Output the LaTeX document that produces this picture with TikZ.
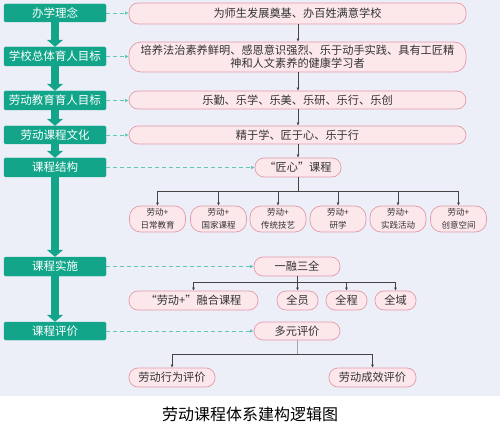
\documentclass[tikz,border=0pt]{standalone}
\usepackage{fontspec}
\setmainfont{Noto Sans CJK SC}
\usetikzlibrary{arrows.meta}
\definecolor{bgc}{HTML}{EDEFF8}
\definecolor{gboxc}{HTML}{12A58A}
\definecolor{pfill}{HTML}{FCE7EB}
\definecolor{pline}{HTML}{E39AAA}
\definecolor{dashc}{HTML}{5FC8B6}
\definecolor{txtc}{HTML}{333333}
\definecolor{linec}{HTML}{444444}
\tikzset{
  gbox/.style={fill=gboxc, draw=gboxc, rounded corners=1.5pt, text=white, minimum width=102pt, inner sep=0pt, font=\fontsize{11.5}{13}\selectfont},
  pbox/.style={fill=pfill, draw=pline, line width=0.7pt, rounded corners=9pt, text=txtc, inner sep=0pt, align=center, font=\fontsize{11.2}{13}\selectfont},
  sbox/.style={pbox, rounded corners=11pt, minimum width=56pt, minimum height=26pt, font=\fontsize{8.5}{13.5}\selectfont},
  garrow/.style={gboxc, line width=8pt, -{Triangle[width=16pt,length=7pt]}},
  darrow/.style={dashc, dashed, dash pattern=on 4pt off 3pt, line width=0.9pt, -{Latex[length=3.5pt,width=3.5pt]}},
  karrow/.style={linec, line width=0.8pt, -{Latex[length=3pt,width=3pt]}},
  kline/.style={linec, line width=0.8pt}
}
\begin{document}
\begin{tikzpicture}[x=1pt,y=-1pt]
\useasboundingbox (0,0) rectangle (500,430);
\fill[bgc] (0,0) rectangle (500,396);

% left green boxes
\node[gbox, minimum height=18pt] (g1) at (55,13) {办学理念};
\node[gbox, minimum height=19pt] (g2) at (55,56.5) {学校总体育人目标};
\node[gbox, minimum height=19pt] (g3) at (55,100.5) {劳动教育育人目标};
\node[gbox, minimum height=18pt] (g4) at (55,135) {劳动课程文化};
\node[gbox, minimum height=19pt] (g5) at (55,167.5) {课程结构};
\node[gbox, minimum height=19pt] (g6) at (55,266.5) {课程实施};
\node[gbox, minimum height=18pt] (g7) at (55,331) {课程评价};

\draw[garrow] (g1.south) -- (g2.north);
\draw[garrow] (g2.south) -- (g3.north);
\draw[garrow] (g3.south) -- (g4.north);
\draw[garrow] (g4.south) -- (g5.north);
\draw[garrow] (g5.south) -- (g6.north);
\draw[garrow] (g6.south) -- (g7.north);

% right pink boxes
\node[pbox, minimum width=337pt, minimum height=21pt] (p1) at (297.5,13.5) {为师生发展奠基、办百姓满意学校};
\node[pbox, minimum width=337pt, minimum height=30pt, rounded corners=12pt] (p2) at (297.5,57) {培养法治素养鲜明、感恩意识强烈、乐于动手实践、具有工匠精\\神和人文素养的健康学习者};
\node[pbox, minimum width=337pt, minimum height=18pt] (p3) at (297.5,100) {乐勤、乐学、乐美、乐研、乐行、乐创};
\node[pbox, minimum width=337pt, minimum height=18pt] (p4) at (297.5,135) {精于学、匠于心、乐于行};
\node[pbox, minimum width=86pt, minimum height=19pt] (jx) at (298,167.5) {“匠心”课程};

\node[sbox] (s1) at (157.5,219) {劳动+\\日常教育};
\node[sbox] (s2) at (218.5,219) {劳动+\\国家课程};
\node[sbox] (s3) at (278,219) {劳动+\\传统技艺};
\node[sbox] (s4) at (338,219) {劳动+\\研学};
\node[sbox] (s5) at (398,219) {劳动+\\实践活动};
\node[sbox] (s6) at (458.5,219) {劳动+\\创意空间};

\node[pbox, minimum width=86pt, minimum height=19pt] (yr) at (297,266.5) {一融三全};
\node[pbox, minimum width=129pt, minimum height=19pt] (r1) at (193.5,300.5) {“劳动+”融合课程};
\node[pbox, minimum width=41pt, minimum height=19pt] (r2) at (297.5,300.5) {全员};
\node[pbox, minimum width=41pt, minimum height=19pt] (r3) at (346.5,300.5) {全程};
\node[pbox, minimum width=41pt, minimum height=19pt] (r4) at (395.5,300.5) {全域};

\node[pbox, minimum width=86pt, minimum height=18pt] (dy) at (297,331) {多元评价};
\node[pbox, minimum width=86pt, minimum height=19pt] (e1) at (172,377.5) {劳动行为评价};
\node[pbox, minimum width=87pt, minimum height=19pt] (e2) at (372.5,377.5) {劳动成效评价};

% dashed links
\draw[darrow] (g1.east) -- (g1.east -| p1.west);
\draw[darrow] (g2.east) -- (g2.east -| p2.west);
\draw[darrow] (g3.east) -- (g3.east -| p3.west);
\draw[darrow] (g4.east) -- (g4.east -| p4.west);
\draw[darrow] (g5.east) -- (g5.east -| jx.west);
\draw[darrow] (g6.east) -- (g6.east -| yr.west);
\draw[darrow] (g7.east) -- (g7.east -| dy.west);

% black arrows
\draw[karrow] (p1.south -| 298,0) -- (p2.north -| 298,0);
\draw[karrow] (p2.south -| 298,0) -- (p3.north -| 298,0);
\draw[karrow] (p3.south -| 298,0) -- (p4.north -| 298,0);
\draw[karrow] (p4.south -| 298,0) -- (jx.north);

\coordinate (b1) at (0,191);
\draw[kline] (jx.south) -- (jx.south |- b1);
\draw[kline] (s1.north |- b1) -- (s6.north |- b1);
\foreach \s in {s1,s2,s3,s4,s5,s6}{\draw[karrow] (\s.north |- b1) -- (\s.north);}

\coordinate (b2) at (0,282);
\draw[kline] (yr.south) -- (yr.south |- b2);
\draw[kline] (r1.north |- b2) -- (r4.north |- b2);
\foreach \s in {r1,r2,r3,r4}{\draw[karrow] (\s.north |- b2) -- (\s.north);}

\coordinate (b3) at (0,354);
\draw[kline, draw=gray!70] (dy.south) -- (dy.south |- b3);
\draw[kline] (e1.north |- b3) -- (e2.north |- b3);
\draw[karrow] (e1.north |- b3) -- (e1.north);
\draw[karrow] (e2.north |- b3) -- (e2.north);

% caption
\node[text=black, font=\fontsize{16}{18}\selectfont] (cap) at (250,414) {劳动课程体系建构逻辑图};
\end{tikzpicture}
\end{document}
